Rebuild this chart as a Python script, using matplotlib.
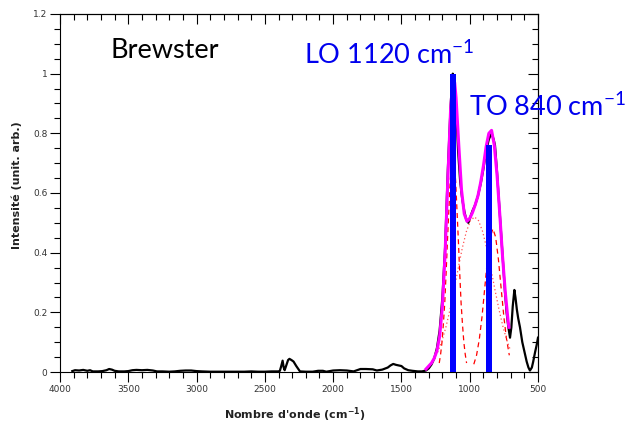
import numpy as np
import matplotlib.pyplot as plt

plt.rcParams['mathtext.default'] = 'regular'

spec_wn = [3910, 3890, 3860, 3830, 3800, 3780, 3760, 3720, 3690, 3660, 3640, 3620, 3600,
           3570, 3530, 3500, 3470, 3440, 3400, 3360, 3320, 3290, 3250, 3200, 3160, 3120,
           3080, 3040, 3000, 2960, 2900, 2850, 2800, 2750, 2700, 2650, 2600, 2550, 2500,
           2450, 2400, 2390, 2380, 2370, 2362, 2355, 2345, 2330, 2320, 2305, 2290, 2270,
           2255, 2243, 2200, 2150, 2110, 2075, 2050, 2000, 1950, 1900, 1850, 1800, 1760,
           1710, 1680, 1640, 1600, 1580, 1560, 1540, 1520, 1500, 1480, 1450, 1420, 1380,
           1350, 1320, 1300, 1280, 1260, 1240, 1220, 1200, 1180, 1160, 1140, 1130, 1124,
           1115, 1100, 1085, 1070, 1055, 1040, 1025, 1010, 995, 980, 960, 940, 920, 900,
           880, 860, 840, 825, 815, 800, 790, 775, 766, 755, 742, 730, 717, 705, 695, 685,
           673, 665, 655, 645, 632, 615, 600, 583, 570, 559, 545, 535, 522, 510, 500]
spec_val = [.003, .006, .005, .007, .004, .006, .002, .002, .003, .006, .010, .008, .004,
            .002, .002, .003, .006, .007, .006, .007, .005, .002, .002, .001, .002, .004,
            .005, .005, .003, .002, .001, .001, .001, .001, .001, .001, .002, .001, .001,
            .002, .002, .004, .020, .038, .015, .006, .020, .040, .044, .040, .035, .020,
            .010, .002, .001, .001, .004, .004, .001, .005, .006, .005, .002, .010, .010,
            .009, .005, .008, .015, .022, .027, .024, .022, .020, .012, .006, .004, .002,
            .002, .005, .012, .025, .045, .080, .140, .250, .420, .680, .890, .970, 1.0,
            .970, .890, .740, .640, .580, .540, .510, .500, .520, .540, .560, .590, .630, .680,
            .740, .780, .800, .780, .760, .670, .600, .500, .430, .360, .270, .200, .150, .115, .150, .220,
            .275, .250, .210, .180, .150, .100, .070, .035, .015, .005, .015, .035, .065, .090, .115]

# fitted envelope
fit_wn = [1320, 1280, 1260, 1240, 1220, 1200, 1180, 1160, 1140, 1123, 1110, 1100, 1080,
          1060, 1040, 1020, 1000, 980, 960, 940, 920, 900, 880, 860, 840, 820, 800, 780,
          760, 740, 720, 713]
fit_val = [.010, .030, .046, .071, .120, .220, .400, .650, .880, .980, .970, .920, .760,
           .610, .530, .505, .515, .534, .560, .590, .635, .690, .755, .800, .810, .760,
           .660, .530, .390, .270, .175, .150]

# component LO (dashed)
lo_wn = [1223, 1213, 1203, 1193, 1183, 1173, 1163, 1153, 1143, 1133, 1123, 1113, 1103,
         1093, 1083, 1073, 1063, 1053, 1043, 1033, 1023]
lo_val = [.03, .06, .10, .16, .23, .33, .44, .54, .64, .70, .72, .70, .64, .54, .44, .33,
          .23, .16, .10, .06, .03]

# broad component (dotted)
br_wn = [1235, 1205, 1175, 1145, 1115, 1085, 1055, 1025, 995, 965, 935, 905, 875, 845,
         815, 785, 755, 725, 705]
br_val = [.066, .102, .149, .208, .275, .346, .414, .470, .507, .520, .507, .470, .414,
          .346, .275, .208, .149, .102, .077]

# component TO (dashed)
to_wn = [970, 950, 930, 910, 890, 870, 850, 830, 810, 790, 770, 750, 730, 710]
to_val = [.026, .056, .109, .185, .281, .378, .452, .480, .452, .378, .281, .185, .109, .056]

# mode positions
bar_pos = [1122, 860]
bar_h = [1.0, 0.76]

fig = plt.figure(figsize=(6.31, 4.25), dpi=100)
ax = fig.add_axes([60/631, 1 - 372/425, 478/631, 358/425])

ax.plot(spec_wn, spec_val, color='black', lw=1.6, zorder=2)
ax.plot(lo_wn, lo_val, color='red', lw=0.9, ls=(0, (4, 3)), zorder=3)
ax.plot(to_wn, to_val, color='red', lw=0.9, ls=(0, (4, 3)), zorder=3)
ax.plot(br_wn, br_val, color='#ff5050', lw=0.9, ls=(0, (1, 2)), zorder=3)
ax.plot(fit_wn, fit_val, color='#ff00ff', lw=2.2, zorder=4)
ax.bar(bar_pos, bar_h, width=42, color='#0000ff', zorder=5)

ax.set_xlim(4000, 500)
ax.set_ylim(0, 1.2)
ax.set_xticks(np.arange(4000, 499, -500))
ax.set_xticks(np.arange(4000, 499, -100), minor=True)
ax.set_yticks(np.arange(0, 1.21, 0.2))
ax.set_yticks(np.arange(0, 1.21, 0.05), minor=True)
ax.set_yticklabels(['0', '0.2', '0.4', '0.6', '0.8', '1', '1.2'])

ax.tick_params(which='both', direction='out', top=False, right=False,
               labelsize=6.5, labelcolor='#333333', width=0.8)
ax.tick_params(which='major', length=7, pad=2)
ax.tick_params(which='minor', length=4)
for sp in ax.spines.values():
    sp.set_linewidth(0.8)

# mirrored inward ticks on top and right
axt = ax.secondary_xaxis('top')
axt.set_xticks(np.arange(4000, 499, -500))
axt.set_xticks(np.arange(4000, 499, -100), minor=True)
axt.tick_params(which='both', direction='in', labeltop=False, width=0.8)
axt.tick_params(which='major', length=7)
axt.tick_params(which='minor', length=4)
axr = ax.secondary_yaxis('right')
axr.set_yticks(np.arange(0, 1.21, 0.2))
axr.set_yticks(np.arange(0, 1.21, 0.05), minor=True)
axr.tick_params(which='both', direction='in', labelright=False, width=0.8)
axr.tick_params(which='major', length=7)
axr.tick_params(which='minor', length=4)

fig.text(295/631, 1 - 415/425, "Nombre d'onde (cm$^{-1}$)", ha='center', va='center',
         fontsize=8, fontweight='bold', color='#222222')
fig.text(17/631, 1 - 185/425, 'Intensité (unit. arb.)', ha='center', va='center',
         rotation=90, fontsize=8, fontweight='bold', color='#222222')

fig.text(110/631, 1 - 58/425, 'Brewster', fontsize=19.5, family='Lato', color='black')
fig.text(304/631, 1 - 64/425, 'LO 1120 cm$^{-1}$', fontsize=19.5, family='Lato', color='#0000ee')
fig.text(469/631, 1 - 116/425, 'TO 840 cm$^{-1}$', fontsize=19.5, family='Lato', color='#0000ee')

fig.savefig('out.png', dpi=100)
